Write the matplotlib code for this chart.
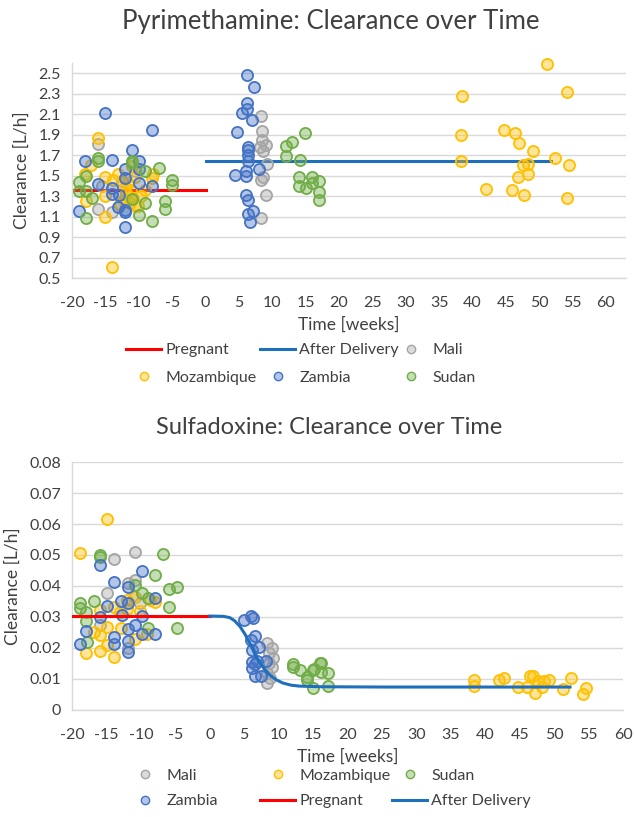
import matplotlib
matplotlib.use("Agg")
import matplotlib.pyplot as plt
from matplotlib.lines import Line2D
from matplotlib.colors import to_rgba

plt.rcParams['font.family'] = ['Lato', 'DejaVu Sans']
plt.rcParams['axes.unicode_minus'] = False

# Pyrimethamine
pyr_mali_t = [-16.1, -16.1, -13.95, -15.5, -12.5, -10.5, 8.25, 8.5, 8.4, 9.0, 8.15, 8.65, 9.15, 8.65, 8.25, 9.0, 8.25]
pyr_mali_cl = [1.81, 1.17, 1.14, 1.40, 1.45, 1.55, 2.08, 1.94, 1.85, 1.80, 1.78, 1.74, 1.61, 1.49, 1.46, 1.31, 1.09]

pyr_moz_t = [-16.05, -17.1, -18.1, -17.95, -15.05, -15.05, -15.05, -13.95, -13.1, -13.85, -12.1, -11.6, -11.1,
             -10.85, -10.6, -11.35, -10.1, -12.85, -9.0, -9.6, -7.95, -7.85, -11.85, -12.25, -10.6, -10.95,
             51.15, 54.15, 38.5, 38.35, 38.35, 44.75, 46.3, 47.0, 49.0, 52.3, 47.5, 48.25, 48.25, 46.75, 54.4,
             41.95, 45.9, 47.65, 54.15]
pyr_moz_cl = [1.87, 1.60, 1.52, 1.25, 1.49, 1.30, 1.10, 0.61, 1.52, 1.46, 1.39, 1.43, 1.36,
              1.28, 1.20, 1.23, 1.20, 1.22, 1.36, 1.30, 1.48, 1.52, 1.33, 1.26, 1.49, 1.59,
              2.59, 2.32, 2.28, 1.90, 1.64, 1.95, 1.92, 1.82, 1.74, 1.67, 1.60, 1.61, 1.52, 1.49, 1.60,
              1.37, 1.36, 1.31, 1.28]

pyr_zam_t = [-15.05, -18.0, -14.0, -16.1, -13.95, -13.95, -13.0, -13.1, -12.0, -12.0, -12.0, -12.0, -12.0,
             -11.0, -10.0, -10.0, -10.0, -8.0, -8.0, -19.0,
             6.25, 7.3, 6.25, 6.25, 5.5, 6.9, 4.65, 6.4, 6.4, 6.4, 6.4, 6.0, 8.0, 4.4, 6.0, 6.0, 6.4, 7.15, 6.4, 6.65]
pyr_zam_cl = [2.11, 1.64, 1.65, 1.42, 1.38, 1.32, 1.31, 1.19, 1.16, 1.14, 1.00, 1.56, 1.48,
              1.75, 1.64, 1.56, 1.43, 1.95, 1.40, 1.15,
              2.48, 2.37, 2.21, 2.15, 2.11, 2.04, 1.93, 1.78, 1.75, 1.70, 1.64, 1.55, 1.56, 1.51, 1.50, 1.31, 1.26,
              1.15, 1.13, 1.05]

pyr_sud_t = [-19.0, -19.0, -17.95, -17.95, -17.0, -16.1, -16.1, -17.85, -10.95, -10.95, -11.0, -10.0, -9.0,
             -9.0, -8.0, -7.0, -5.0, -5.0, -6.0, -6.0,
             12.0, 13.0, 12.0, 14.9, 14.15, 14.0, 14.0, 15.0, 16.0, 16.0, 17.05, 17.05, 17.05]
pyr_sud_cl = [1.44, 1.35, 1.50, 1.09, 1.28, 1.67, 1.64, 1.35, 1.64, 1.62, 1.27, 1.12, 1.55,
              1.23, 1.06, 1.57, 1.46, 1.41, 1.25, 1.17,
              1.79, 1.83, 1.69, 1.92, 1.65, 1.49, 1.40, 1.38, 1.49, 1.43, 1.45, 1.34, 1.26]

pyr_preg_t = [-20, 0]
pyr_preg_cl = [1.36, 1.36]
pyr_post_t = [0, 51.75]
pyr_post_cl = [1.645, 1.645]

# Sulfadoxine
sdx_mali_t = [-13.9, -10.85, -14.9, -15.9, -11.85, -10.85, -11.85, -10.85, -10.1,
              8.25, 9.1, 8.6, 9.2, 8.6, 9.1, 8.25, 8.35, 8.7]
sdx_mali_cl = [0.0486, 0.0511, 0.0378, 0.0274, 0.0199, 0.0419, 0.0411, 0.0366, 0.0344,
               0.0217, 0.0199, 0.0183, 0.0167, 0.0153, 0.0140, 0.0120, 0.0086, 0.0102]

sdx_moz_t = [-18.85, -14.98, -17.9, -15.9, -13.9, -14.9, -16.8, -15.9, -14.9, -15.9, -13.9, -13.0, -12.05,
             -11.95, -10.85, -11.0, -10.1, -9.15, -8.7, -7.9, -12.95,
             38.4, 38.4, 42.0, 42.7, 44.8, 46.0, 46.5, 46.9, 47.2, 47.7, 48.3, 48.5, 49.2, 51.3, 52.5, 54.6, 54.2]
sdx_moz_cl = [0.0508, 0.0615, 0.0183, 0.0190, 0.0170, 0.0210, 0.0253, 0.0242, 0.0267, 0.0323, 0.0331, 0.0317, 0.0355,
              0.0325, 0.0228, 0.0366, 0.0320, 0.0244, 0.0355, 0.0349, 0.0263,
              0.0097, 0.0077, 0.0097, 0.0104, 0.0073, 0.0073, 0.0108, 0.0108, 0.0054, 0.0095, 0.0073, 0.0095,
              0.0097, 0.0068, 0.0102, 0.0072, 0.0052]

sdx_sud_t = [-18.85, -18.85, -17.9, -17.9, -17.8, -16.8, -15.9, -15.9, -10.85, -9.9, -8.95, -7.9, -8.95,
             -6.8, -5.85, -4.8, -5.85, -4.8,
             12.15, 12.15, 13.1, 14.05, 14.05, 15.0, 15.0, 16.0, 15.13, 16.1, 16.1, 17.2, 17.2]
sdx_sud_cl = [0.0344, 0.0328, 0.0317, 0.0288, 0.0220, 0.0353, 0.0500, 0.0492, 0.0403, 0.0376, 0.0360, 0.0435, 0.0263,
              0.0503, 0.0389, 0.0396, 0.0333, 0.0263,
              0.0148, 0.0138, 0.0129, 0.0105, 0.0097, 0.0129, 0.0070, 0.0151, 0.0131, 0.0153, 0.0124, 0.0118, 0.0077]

sdx_zam_t = [-18.85, -17.9, -15.9, -15.9, -14.9, -13.9, -13.9, -13.9, -12.95, -11.85, -11.85, -11.85, -11.85,
             -11.85, -10.85, -9.9, -9.9, -9.9, -7.9, -7.9, -12.8,
             4.9, 5.95, 6.3, 5.95, 6.6, 7.2, 6.2, 6.2, 6.8, 6.2, 6.6, 6.6, 7.4, 8.1]
sdx_zam_cl = [0.0213, 0.0256, 0.0299, 0.0468, 0.0337, 0.0414, 0.0237, 0.0213, 0.0352, 0.0346, 0.0398, 0.0260, 0.0224,
              0.0188, 0.0274, 0.0449, 0.0303, 0.0244, 0.0360, 0.0244, 0.0306,
              0.0290, 0.0303, 0.0296, 0.0226, 0.0239, 0.0202, 0.0194, 0.0156, 0.0159, 0.0134, 0.0148, 0.0110,
              0.0110, 0.0159]

sdx_preg_t = [-20, 0]
sdx_preg_cl = [0.0303, 0.0303]
sdx_post_t = [0, 2.0, 2.9, 3.6, 4.4, 5.1, 5.8, 6.5, 7.3, 8.0, 8.7, 9.6, 10.6, 11.8, 13.0, 16.0, 25.0, 40.0, 52.3]
sdx_post_cl = [0.0303, 0.0302, 0.0298, 0.0288, 0.0269, 0.0245, 0.0216, 0.0183, 0.0151, 0.0130, 0.0113, 0.0098,
               0.0087, 0.0080, 0.0077, 0.0075, 0.0074, 0.0074, 0.0074]

colors = {
    'Mali': '#A5A5A5',
    'Mozambique': '#FFC000',
    'Zambia': '#4472C4',
    'Sudan': '#70AD47',
}
red = '#FF0000'
blue = '#1F6FBF'
grid = '#D9D9D9'
txt = '#404040'


def style_axes(ax):
    for s in ['top', 'right']:
        ax.spines[s].set_visible(False)
    for s in ['left', 'bottom']:
        ax.spines[s].set_color(grid)
        ax.spines[s].set_linewidth(1)
    ax.grid(axis='y', color=grid, linewidth=1)
    ax.set_axisbelow(True)
    ax.tick_params(length=0, labelsize=11.5, colors=txt)
    ax.tick_params(axis='x', pad=13)
    ax.tick_params(axis='y', pad=8)
    ax.set_xticks(range(-20, 61, 5))
    ax.set_xlabel('Time [weeks]', fontsize=12.5, color=txt, labelpad=5)
    ax.set_ylabel('Clearance [L/h]', fontsize=12.5, color=txt, labelpad=6)


def dots(ax, name, t, cl):
    c = colors[name]
    return ax.scatter(t, cl, s=64, facecolor=to_rgba(c, 0.4), edgecolor=c, linewidth=1.3,
                      zorder=3, clip_on=False)


def dot_handle(name):
    c = colors[name]
    return Line2D([], [], linestyle='none', marker='o', markersize=6, markerfacecolor=to_rgba(c, 0.4),
                  markeredgecolor=c, markeredgewidth=1.0, label=name)


def column_legend(handles, x, y, spacing):
    leg = fig.legend(handles=handles, loc='center left', bbox_to_anchor=(x / 634, 1 - y / 817),
                     frameon=False, fontsize=11.5, handlelength=2.2, handletextpad=0.25,
                     labelspacing=spacing, borderpad=0, borderaxespad=0, labelcolor=txt)
    return leg


fig = plt.figure(figsize=(6.34, 8.17), dpi=100)

h_preg = Line2D([], [], color=red, linewidth=2.2, label='Pregnant')
h_post = Line2D([], [], color=blue, linewidth=2.2, label='After Delivery')

# top chart
ax1 = fig.add_axes([0.1136, 0.6597, 0.8738, 0.2632])
style_axes(ax1)
ax1.plot(pyr_preg_t, pyr_preg_cl, color=red, linewidth=2.2, zorder=2)
ax1.plot(pyr_post_t, pyr_post_cl, color=blue, linewidth=2.2, zorder=2)
dots(ax1, 'Mali', pyr_mali_t, pyr_mali_cl)
dots(ax1, 'Mozambique', pyr_moz_t, pyr_moz_cl)
dots(ax1, 'Zambia', pyr_zam_t, pyr_zam_cl)
dots(ax1, 'Sudan', pyr_sud_t, pyr_sud_cl)
ax1.set_xlim(-20, 63)
ax1.set_ylim(0.5, 2.6)
ax1.set_yticks([0.5 + 0.2 * i for i in range(11)])
ax1.set_yticklabels(['%.1f' % (0.5 + 0.2 * i) for i in range(11)])
fig.text(331 / 634, 1 - 22 / 817, 'Pyrimethamine: Clearance over Time', ha='center', va='center',
         fontsize=18.5, color=txt)

column_legend([h_preg, dot_handle('Mozambique')], 126, 364, 0.82)
column_legend([h_post, dot_handle('Zambia')], 260, 364, 0.82)
column_legend([dot_handle('Mali'), dot_handle('Sudan')], 393, 364, 0.82)

# bottom chart
ax2 = fig.add_axes([0.1136, 0.1310, 0.8691, 0.3035])
style_axes(ax2)
dots(ax2, 'Mali', sdx_mali_t, sdx_mali_cl)
dots(ax2, 'Mozambique', sdx_moz_t, sdx_moz_cl)
dots(ax2, 'Sudan', sdx_sud_t, sdx_sud_cl)
dots(ax2, 'Zambia', sdx_zam_t, sdx_zam_cl)
ax2.plot(sdx_preg_t, sdx_preg_cl, color=red, linewidth=2.2, zorder=4)
ax2.plot(sdx_post_t, sdx_post_cl, color=blue, linewidth=2.2, zorder=4)
ax2.set_xlim(-20, 60)
ax2.set_ylim(0, 0.08)
ax2.set_yticks([0.01 * i for i in range(9)])
ax2.set_yticklabels(['0'] + ['%.2f' % (0.01 * i) for i in range(1, 9)])
fig.text(329 / 634, 1 - 428 / 817, 'Sulfadoxine: Clearance over Time', ha='center', va='center',
         fontsize=17, color=txt)

column_legend([dot_handle('Mali'), dot_handle('Zambia')], 127, 788.5, 0.72)
column_legend([dot_handle('Mozambique'), h_preg], 260, 788.5, 0.72)
column_legend([dot_handle('Sudan'), h_post], 392, 788.5, 0.72)

fig.savefig('out.png', dpi=100)
